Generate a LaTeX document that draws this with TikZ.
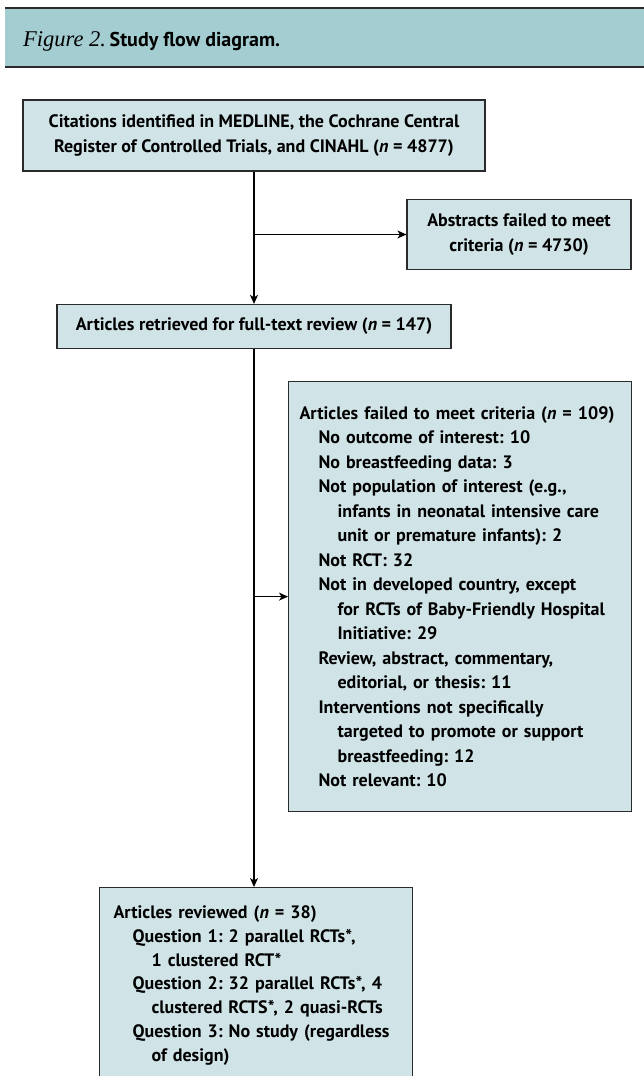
\documentclass[tikz,border=0pt]{standalone}
\usepackage{fontspec}
\setmainfont{PT Sans}
\newfontfamily\figfont{Liberation Serif}
\usetikzlibrary{arrows.meta}

\definecolor{boxblue}{HTML}{D0E4E7}
\definecolor{bandblue}{HTML}{A4CDD1}
\definecolor{inkgray}{HTML}{2A2A2A}

\newcommand{\boxtext}{\frenchspacing\bfseries\fontsize{18}{24.5}\selectfont}
\newcommand{\lvlzero}[1]{\mbox{#1}}
\newcommand{\lvlone}[1]{\hspace*{19pt}\mbox{#1}}
\newcommand{\lvltwo}[1]{\hspace*{38pt}\mbox{#1}}

\begin{document}
\begin{tikzpicture}[x=1pt,y=-1pt,
  box/.style={draw=inkgray,fill=boxblue,line width=1.2pt,font=\boxtext,inner sep=0pt},
  flow/.style={-{Stealth[length=9pt,width=8pt,inset=2.5pt]},line width=1.2pt}]
\clip (0,0) rectangle (644,1076);
% title band
\fill[bandblue] (5,8) rectangle (644,67);
\draw[inkgray,line width=1.2pt] (5,8) -- (644,8);
\draw[inkgray,line width=1.8pt] (5,67) -- (644,67);
\node[anchor=base west,inner sep=0pt] (title) at (23,46)
  {{\figfont\itshape\fontsize{22.5}{22.5}\selectfont Figure 2.} {\bfseries\fontsize{20}{20}\selectfont Study flow diagram.}};

% boxes
\node[box,minimum width=462pt,minimum height=71pt,align=center] (cites) at (254,135.5)
  {Citations identified in MEDLINE, the Cochrane Central\\
   Register of Controlled Trials, and CINAHL (\textit{n} = 4877)};
\node[box,minimum width=224pt,minimum height=70pt,align=center] (abstracts) at (519,234.5)
  {Abstracts failed to meet\\criteria (\textit{n} = 4730)};
\node[box,minimum width=394pt,minimum height=44pt] (fulltext) at (254,326.5)
  {Articles retrieved for full-text review (\textit{n} = 147)};
\node[box,anchor=north west,text width=321pt,inner xsep=11pt,minimum height=430pt,align=left] (failed) at (288,381)
  {\lvlzero{Articles failed to meet criteria (\textit{n} = 109)}\\
   \lvlone{No outcome of interest: 10}\\
   \lvlone{No breastfeeding data: 3}\\
   \lvlone{Not population of interest (e.g.,}\\
   \lvltwo{infants in neonatal intensive care}\\
   \lvltwo{unit or premature infants): 2}\\
   \lvlone{Not RCT: 32}\\
   \lvlone{Not in developed country, except}\\
   \lvltwo{for RCTs of Baby-Friendly Hospital}\\
   \lvltwo{Initiative: 29}\\
   \lvlone{Review, abstract, commentary,}\\
   \lvltwo{editorial, or thesis: 11}\\
   \lvlone{Interventions not specifically}\\
   \lvltwo{targeted to promote or support}\\
   \lvltwo{breastfeeding: 12}\\
   \lvlone{Not relevant: 10}};
\node[box,anchor=north west,text width=285pt,inner xsep=14pt,inner ysep=18pt,align=left,
      font=\boxtext\fontsize{18}{23.8}\selectfont] (reviewed) at (99,887)
  {\lvlzero{Articles reviewed (\textit{n} = 38)}\\
   \lvlone{Question 1: 2 parallel RCTs*,}\\
   \lvltwo{1 clustered RCT*}\\
   \lvlone{Question 2: 32 parallel RCTs*, 4}\\
   \lvltwo{clustered RCTS*, 2 quasi-RCTs}\\
   \lvlone{Question 3: No study (regardless}\\
   \lvltwo{of design)}};

% connectors
\draw[flow] (cites) -- (fulltext);
\draw[flow] (cites.south |- abstracts.west) -- (abstracts.west);
\draw[flow] (fulltext.south) -- (fulltext.south |- reviewed.north);
\draw[flow] (fulltext.south |- failed.west) -- (failed.west);
\end{tikzpicture}
\end{document}
